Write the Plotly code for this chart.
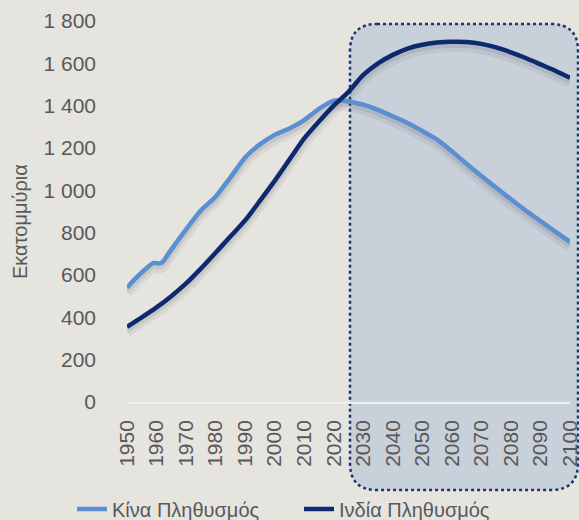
import plotly.graph_objects as go

# ---------------- data ----------------
china_years = [1950, 1953, 1956, 1959, 1961, 1962, 1965, 1970, 1975, 1980, 1985, 1990,
               1995, 2000, 2005, 2010, 2015, 2020, 2022, 2025, 2030, 2035, 2040, 2045,
               2050, 2055, 2060, 2065, 2070, 2075, 2080, 2085, 2090, 2095, 2100]
china_pop = [540, 585, 625, 657, 655, 660, 720, 815, 905, 970, 1060, 1155,
             1217, 1262, 1292, 1332, 1385, 1424, 1426, 1420, 1405, 1380, 1350, 1318,
             1280, 1240, 1185, 1125, 1068, 1012, 958, 905, 855, 805, 757]

india_years = [1950, 1955, 1960, 1965, 1970, 1975, 1980, 1985, 1990, 1995, 2000, 2005,
               2010, 2015, 2020, 2025, 2030, 2035, 2040, 2045, 2050, 2055, 2060, 2065,
               2070, 2075, 2080, 2085, 2090, 2095, 2100]
india_pop = [355, 400, 447, 500, 560, 630, 705, 782, 858, 950, 1045, 1145,
             1245, 1325, 1400, 1465, 1545, 1600, 1640, 1670, 1688, 1698, 1702, 1701,
             1692, 1675, 1652, 1625, 1595, 1565, 1532]

y_tick_vals = [0, 200, 400, 600, 800, 1000, 1200, 1400, 1600, 1800]
y_tick_text = ["0", "200", "400", "600", "800", "1 000", "1 200", "1 400", "1 600", "1 800"]
x_tick_vals = list(range(1950, 2101, 10))

series_names = ["Κίνα Πληθυσμός", "Ινδία Πληθυσμός"]
y_title = "Εκατομμύρια"

# ---------------- styling ----------------
BG = "#E5E4DF"
CHINA_C = "#5A8FD2"
INDIA_C = "#0C2A6D"
TEXT_C = "#595959"
FONT = "Liberation Sans, Arial, sans-serif"

W, H = 579, 520
L, R, T, B = 127, 9, 21, 118  # plot area margins (px)
PW, PH = W - L - R, H - T - B

def px_x(px):
    return (px - L) / PW

def px_y(py):
    return (H - B - py) / PH

fig = go.Figure()

# soft drop shadows (same data, nudged downward)
SHADOW_SHIFT = 22
for xs, ys in [(china_years, china_pop), (india_years, india_pop)]:
    fig.add_trace(go.Scatter(x=xs, y=[v - SHADOW_SHIFT for v in ys], mode="lines",
                             line=dict(color="rgba(60,60,60,0.07)", width=11, shape="spline", smoothing=0.6),
                             hoverinfo="skip", showlegend=False))
    fig.add_trace(go.Scatter(x=xs, y=[v - SHADOW_SHIFT * 0.7 for v in ys], mode="lines",
                             line=dict(color="rgba(60,60,60,0.10)", width=6, shape="spline", smoothing=0.6),
                             hoverinfo="skip", showlegend=False))

fig.add_trace(go.Scatter(x=china_years, y=china_pop, mode="lines", name=series_names[0],
                         legend="legend",
                         line=dict(color=CHINA_C, width=4.5, shape="spline", smoothing=0.6)))
fig.add_trace(go.Scatter(x=india_years, y=india_pop, mode="lines", name=series_names[1],
                         legend="legend2",
                         line=dict(color=INDIA_C, width=4.5, shape="spline", smoothing=0.6)))

# rounded, dotted projection box
x0, x1 = px_x(350), px_x(578)
y0, y1 = px_y(490), px_y(24)
rx, ry = 27 / PW, 27 / PH
path = (f"M{x0+rx},{y1} L{x1-rx},{y1} Q{x1},{y1} {x1},{y1-ry} "
        f"L{x1},{y0+ry} Q{x1},{y0} {x1-rx},{y0} "
        f"L{x0+rx},{y0} Q{x0},{y0} {x0},{y0+ry} "
        f"L{x0},{y1-ry} Q{x0},{y1} {x0+rx},{y1} Z")
fig.add_shape(type="path", path=path, xref="paper", yref="paper", layer="below",
              fillcolor="#C8D0DA", line=dict(color="#1B3475", width=2.5, dash="dot"))

fig.add_annotation(text=y_title, xref="paper", yref="paper", x=px_x(20), y=px_y(222),
                   textangle=-90, showarrow=False, font=dict(size=20, color=TEXT_C, family=FONT),
                   xanchor="center", yanchor="middle")

legend_common = dict(orientation="h", xref="container", yref="container",
                     y=(H - 509) / H, xanchor="left", yanchor="middle",
                     font=dict(size=20, color=TEXT_C, family=FONT),
                     bgcolor="rgba(0,0,0,0)")

fig.update_layout(
    width=W, height=H,
    margin=dict(l=L, r=R, t=T, b=B, autoexpand=False),
    paper_bgcolor=BG, plot_bgcolor="rgba(0,0,0,0)",
    font=dict(family=FONT, color=TEXT_C, size=21),
    showlegend=True,
    legend=dict(x=72 / W, **legend_common),
    legend2=dict(x=299 / W, **legend_common),
    xaxis=dict(range=[1950, 2100], tickvals=x_tick_vals, tickangle=-90,
               showgrid=False, zeroline=False, showline=True, linecolor="#F1F0EC", linewidth=1.5,
               ticks="", ticklabelstandoff=8, ticklabeloverflow="allow",
               tickfont=dict(size=21, color=TEXT_C)),
    yaxis=dict(range=[0, 1800], tickvals=y_tick_vals, ticktext=y_tick_text,
               showgrid=False, zeroline=False, showline=False, ticks="",
               ticklabelstandoff=30, tickfont=dict(size=21, color=TEXT_C)),
)

fig.write_html("out.html", config={"displayModeBar": False},
               post_script="document.body.style.margin='0';document.body.style.background='" + BG + "';")
